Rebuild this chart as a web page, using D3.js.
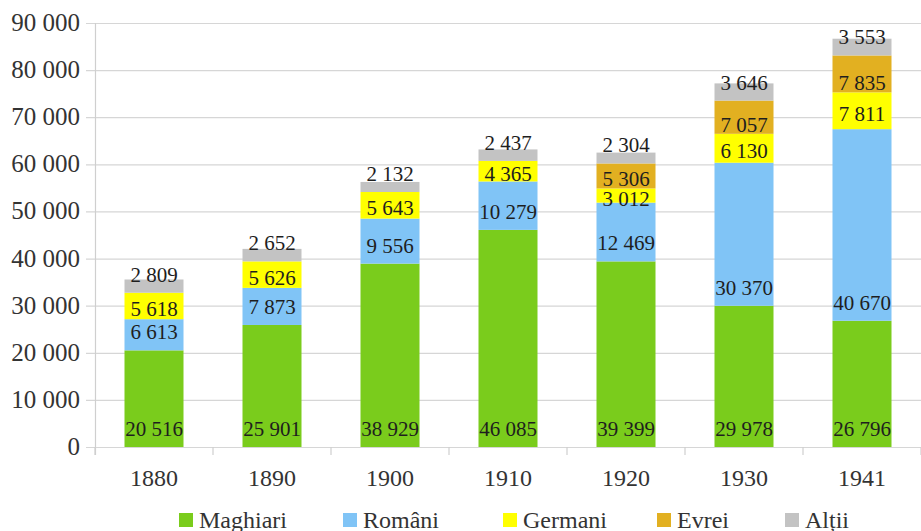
<!DOCTYPE html>
<html><head><meta charset="utf-8"><script src="https://cdn.jsdelivr.net/npm/d3@7"></script></head>
<body style="margin:0">
<svg id="chart" width="921" height="531" font-family="Liberation Serif"></svg>
<script>
// Census years
const years = ["1880", "1890", "1900", "1910", "1920", "1930", "1941"];

// Population by ethnic group
const maghiari = [20516, 25901, 38929, 46085, 39399, 29978, 26796];
const romani   = [6613, 7873, 9556, 10279, 12469, 30370, 40670];
const germani  = [5618, 5626, 5643, 4365, 3012, 6130, 7811];
const evrei    = [0, 0, 0, 0, 5306, 7057, 7835];
const altii    = [2809, 2652, 2132, 2437, 2304, 3646, 3553];

const seriesNames = ["Maghiari", "Români", "Germani", "Evrei", "Alții"];
const yTicks = [0, 10000, 20000, 30000, 40000, 50000, 60000, 70000, 80000, 90000];

// Styling per series: fill and where the value label sits in its segment
const colors = ["#7acc1c", "#80c4f6", "#ffff00", "#e2b021", "#c3c3c3"];
const labelMode = ["base", "base", "center", "lowbase", "base"];
const FONT = "Liberation Serif";

const table = years.map((y, i) => ({
  year: y,
  "Maghiari": maghiari[i],
  "Români": romani[i],
  "Germani": germani[i],
  "Evrei": evrei[i],
  "Alții": altii[i]
}));

const svg = d3.select("#chart");
const plot = { left: 95, right: 921, top: 23, bottom: 447 };

const x = d3.scaleBand().domain(years).range([plot.left, plot.right]).paddingInner(0.5).paddingOuter(0.25);
const y = d3.scaleLinear().domain([0, 90000]).range([plot.bottom, plot.top]);

const fmt = d3.formatLocale({ decimal: ",", thousands: " ", grouping: [3], currency: ["", ""] }).format(",d");

// Horizontal grid lines with small ticks left of the axis
svg.append("g").selectAll("line")
  .data(yTicks)
  .join("line")
  .attr("x1", plot.left - 9).attr("x2", plot.right)
  .attr("y1", d => y(d) + 0.5).attr("y2", d => y(d) + 0.5)
  .attr("stroke", "#d6d6d6").attr("stroke-width", 1.2);

// Y axis tick labels
svg.append("g").selectAll("text")
  .data(yTicks)
  .join("text")
  .attr("x", plot.left - 15)
  .attr("y", d => y(d) + 8)
  .attr("text-anchor", "end")
  .attr("font-family", FONT)
  .attr("font-size", 25)
  .attr("fill", "#333")
  .text(d => fmt(d));

// Y axis line
svg.append("line")
  .attr("x1", plot.left + 0.5).attr("x2", plot.left + 0.5)
  .attr("y1", plot.top).attr("y2", plot.bottom + 8)
  .attr("stroke", "#cfcfcf").attr("stroke-width", 1.2);

// X axis tick marks between categories
const step = x.step();
svg.append("g").selectAll("line")
  .data(d3.range(years.length + 1))
  .join("line")
  .attr("x1", i => plot.left + i * step).attr("x2", i => plot.left + i * step)
  .attr("y1", plot.bottom).attr("y2", plot.bottom + 8)
  .attr("stroke", "#cfcfcf").attr("stroke-width", 1.2);

// Stacked bars
const layers = d3.stack().keys(seriesNames)(table);

svg.append("g").selectAll("g")
  .data(layers)
  .join("g")
  .attr("fill", (d, i) => colors[i])
  .selectAll("rect")
  .data(d => d)
  .join("rect")
  .attr("x", d => x(d.data.year))
  .attr("width", x.bandwidth())
  .attr("y", d => y(d[1]))
  .attr("height", d => y(d[0]) - y(d[1]));

// Value labels
const labels = svg.append("g");
layers.forEach((layer, si) => {
  layer.forEach(d => {
    const v = d[1] - d[0];
    if (!v) return;
    const base = y(d[0]), top = y(d[1]);
    let cy;
    if (labelMode[si] === "base") cy = base - 18;
    else if (labelMode[si] === "lowbase") cy = base - 9;
    else cy = (base + top) / 2 + 3;
    labels.append("text")
      .attr("x", x(d.data.year) + x.bandwidth() / 2)
      .attr("y", cy + 7)
      .attr("text-anchor", "middle")
      .attr("font-family", FONT)
      .attr("font-size", 21)
      .attr("fill", "#1e1e1e")
      .text(fmt(v));
  });
});

// X axis category labels
svg.append("g").selectAll("text")
  .data(years)
  .join("text")
  .attr("x", d => x(d) + x.bandwidth() / 2)
  .attr("y", 486)
  .attr("text-anchor", "middle")
  .attr("font-family", FONT)
  .attr("font-size", 24)
  .attr("fill", "#333")
  .text(d => d);

// Legend: swatch, label, then a fixed gap before the next entry
const legendGap = [0, 164, 160, 154, 128];
let lx = 179;
const legend = svg.append("g");
seriesNames.forEach((name, i) => {
  lx += legendGap[i];
  legend.append("rect")
    .attr("x", lx).attr("y", 513)
    .attr("width", 14).attr("height", 14)
    .attr("fill", colors[i]);
  legend.append("text")
    .attr("x", lx + 20).attr("y", 528)
    .attr("font-family", FONT)
    .attr("font-size", 24)
    .attr("fill", "#333")
    .text(name);
});
</script>
</body>
</html>
